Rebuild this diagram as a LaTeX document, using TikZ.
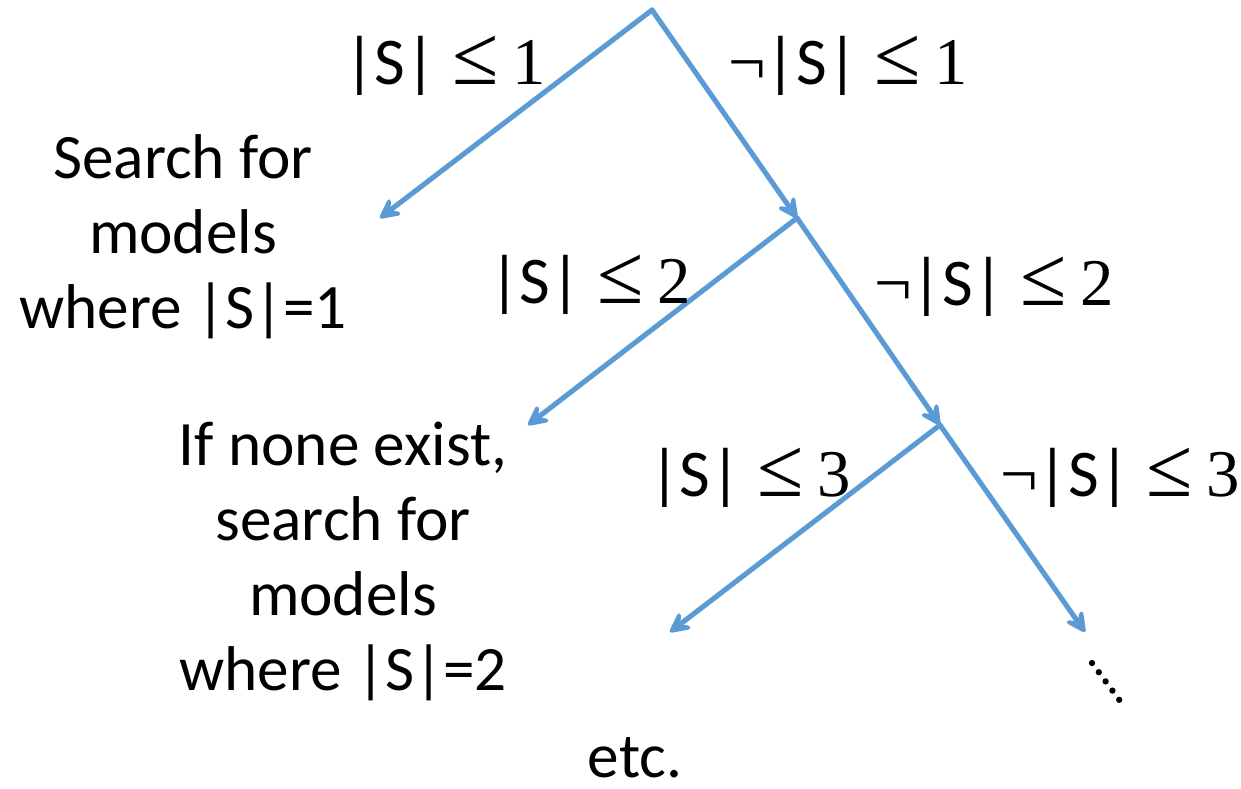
\documentclass[tikz,border=0pt]{standalone}
\usepackage{fontspec}
\usepackage{xcolor}
\usetikzlibrary{arrows.meta}
\setmainfont{Carlito}
\newfontfamily\serfont{Liberation Serif}
\definecolor{branchColor}{HTML}{5B9BD5}
\newcommand{\atmost}[1]{{\serfont\hspace{0.25em}{\fontsize{48}{48}\selectfont ≤}\hspace{0.2em}#1}}
\newcommand{\ngt}{{\serfont ¬}}

\begin{document}
\begin{tikzpicture}[x=0.02cm, y=-0.02cm,
    branch/.style={line width=2.9pt, branchColor, line cap=round, line join=round,
        -{Stealth[length=5.5mm, width=5.5mm, inset=2.4mm, round]}},
    cond/.style={font=\fontsize{38}{44}\selectfont, inner sep=0pt},
    txt/.style={font=\fontsize{36}{42.7}\selectfont, align=center, inner sep=0pt}]
    \useasboundingbox (0,0) rectangle (1241,788);

    \coordinate (r) at (652,10);
    \coordinate (n1) at (797,218);
    \coordinate (n2) at (940,425);
    \coordinate (l1) at (380,218);
    \coordinate (l2) at (528,425);
    \coordinate (l3) at (670,632);
    \coordinate (l4) at (1085,632);

    \draw[branch] (r) -- (l1);
    \draw[branch] (r) -- (n1);
    \draw[branch] (n1) -- (l2);
    \draw[branch] (n1) -- (n2);
    \draw[branch] (n2) -- (l3);
    \draw[branch] (n2) -- (l4);

    % branch conditions
    \node[cond] (c1) at (445,66) {|S|\atmost{1}};
    \node[cond] (c2) at (848,66) {\ngt|S|\atmost{1}};
    \node[cond] (c3) at (590,285) {|S|\atmost{2}};
    \node[cond] (c4) at (994,287) {\ngt|S|\atmost{2}};
    \node[cond] (c5) at (750,478) {|S|\atmost{3}};
    \node[cond] (c6) at (1120,478) {\ngt|S|\atmost{3}};

    % leaves
    \node[txt] (t1) at (183,237) {Search for\\models\\where |S|=1};
    \node[txt] (t2) at (343,561) {If none exist,\\search for\\models\\where |S|=2};
    \node[txt] (t3) at (635,758) {etc.};

    \foreach \i in {0,...,4}
        \fill (1092+6.8*\i,663+9.2*\i) circle (1.8pt);
\end{tikzpicture}
\end{document}
